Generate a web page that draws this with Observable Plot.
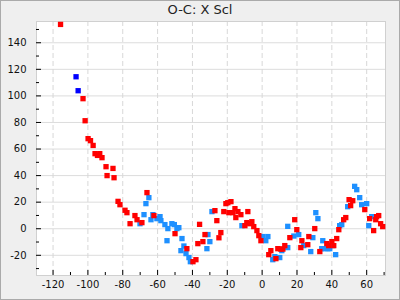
<!DOCTYPE html>
<html><head><meta charset="utf-8">
<script src="https://cdn.jsdelivr.net/npm/d3@7"></script>
<script src="https://cdn.jsdelivr.net/npm/@observablehq/plot@0.6"></script>
<style>
html,body{margin:0;padding:0;background:#fff;}
#frame{position:relative;width:400px;height:300px;box-sizing:border-box;border:1px solid #aaa;background:#efefef;font-family:"DejaVu Sans",sans-serif;overflow:hidden;}
#title{height:18px;line-height:18px;text-align:center;font-size:13px;color:#222;}
#chart svg{display:block;}
</style></head><body>
<div id="frame"><div id="title">O-C: X Scl</div><div id="chart"></div></div>
<script>
const titleText = "O-C: X Scl";
const xTicks = [-120,-100,-80,-60,-40,-20,0,20,40,60];
const xMinor = [-110,-90,-70,-50,-30,-10,10,30,50,70];
const yTicks = [-20,0,20,40,60,80,100,120,140];
const yMinor = [-30,-10,10,30,50,70,90,110,130,150];

const redX = [-115.7,-102.8,-101.6,-99.9,-98.5,-97.0,-95.9,-94.5,-93.2,-91.9,-89.6,-85.6,-89.0,-85.0,-82.7,-81.6,-78.7,-77.6,-75.8,-73.0,-71.8,-69.0,-66.1,-62.1,-50.0,-43.2,-39.7,-38.0,-36.9,-35.9,-34.0,-32.8,-24.8,-23.7,-26.0,-27.1,-20.8,-19.7,-17.9,-22.0,-19.1,-16.8,-15.6,-13.9,-12.2,-15.1,-8.2,-9.9,-8.8,-7.1,-5.9,-4.8,-3.0,-1.9,-0.7,5.0,3.8,9.0,7.9,10.7,11.9,13.0,15.9,18.7,19.9,22.8,22.2,26.8,26.2,30.2,33.1,37.1,38.2,40.0,41.1,42.8,44.0,46.8,48.0,49.9,52.0,50.8,58.9,61.7,65.2,66.9,65.7,64.0,68.0,69.2];
const redY = [153.8,97.9,81.3,67.8,66.3,62.7,56.5,55.2,56.5,53.5,46.7,45.4,40.0,38.4,20.6,18.1,13.9,12.1,3.8,9.9,6.8,4.6,27.2,9.9,-3.7,-15.0,-24.8,-23.3,-11.2,3.3,-9.7,-4.4,-6.8,-2.9,6.1,13.6,18.9,19.6,20.4,12.9,12.1,12.1,15.1,12.9,10.6,8.4,12.9,2.3,4.6,3.8,5.3,1.6,-1.4,-5.2,-9.0,-16.5,-19.5,-15.0,-22.5,-15.3,-15.3,-12.7,-6.7,6.8,-0.7,-9.0,-14.2,-5.9,-12.0,0.1,-17.2,-11.2,-12.7,-9.7,-12.7,-7.4,-0.7,6.8,8.4,21.9,21.1,17.4,14.4,7.6,6.8,9.9,9.1,-1.4,3.8,1.6];

const blueX = [-66.7,-65.0,-70.1,-67.8,-62.7,-63.8,-60.4,-58.6,-58.1,-55.8,-54.1,-51.8,-50.4,-48.9,-47.8,-54.6,-46.0,-44.9,-46.6,-43.7,-42.0,-41.2,-30.0,-31.7,-31.1,-28.8,-11.6,0.4,3.3,2.1,6.1,7.3,10.1,11.3,14.7,14.7,18.2,21.0,23.9,27.9,29.1,30.8,32.0,34.8,34.2,35.9,37.7,38.8,40.5,42.2,44.5,45.7,53.1,54.3,56.0,49.1,57.1,60.0,62.9,61.2];
const blueY = [18.9,23.4,3.8,10.6,10.6,6.8,7.6,9.1,6.1,3.1,0.1,3.8,3.1,0.1,0.8,-9.0,-7.4,-13.0,-16.5,-18.7,-21.7,-24.8,-9.7,-15.0,-4.4,12.9,2.3,-5.9,-5.9,-9.0,-23.3,-21.0,-21.7,-16.5,-14.2,1.8,-5.5,-4.4,-12.7,-17.2,-6.7,12.1,7.6,-9.0,-15.0,-15.0,-15.0,-15.0,-12.7,-19.5,2.3,3.1,31.9,29.4,23.4,16.6,18.1,18.9,9.1,2.3];

const navyX = [-106.8,-105.6];
const navyY = [114.4,103.9];

const toRows = (xs, ys) => xs.map((x, i) => ({x, y: ys[i]}));
const red = toRows(redX, redY);
const blue = toRows(blueX, blueY);
const navy = toRows(navyX, navyY);

document.getElementById("title").textContent = titleText;

const W = 398, H = 280;
const mL = 35, mR = 14, mT = 2, mB = 24;
const innerW = W - mL - mR, innerH = H - mT - mB;
const fmt = d => String(d);

const chart = Plot.plot({
  width: W, height: H,
  marginLeft: mL, marginRight: mR, marginTop: mT, marginBottom: mB,
  style: {background: "transparent", fontFamily: "DejaVu Sans, sans-serif", fontSize: "10px", color: "#111"},
  x: {domain: [-129.5, 70.8], axis: null},
  y: {domain: [-35.2, 156], axis: null},
  marks: [
    Plot.frame({fill: "white", stroke: "none"}),
    Plot.ruleY(yTicks, {stroke: "#dcdcdc", strokeWidth: 1}),
    Plot.ruleX(xTicks, {stroke: "#d8d8d8", strokeDasharray: "5,3"}),
    Plot.frame({stroke: "#d0d0d0", fill: "none"}),
    Plot.ruleX(xTicks, {stroke: "black", insetTop: innerH - 5}),
    Plot.ruleX(xMinor, {stroke: "black", insetTop: innerH - 3}),
    Plot.ruleY(yTicks, {stroke: "black", insetRight: innerW - 5}),
    Plot.ruleY(yMinor, {stroke: "black", insetRight: innerW - 3}),
    Plot.axisX(xTicks, {tickSize: 0, tickPadding: 5, tickFormat: fmt, label: null, fill: "#111"}),
    Plot.axisY(yTicks, {tickSize: 0, tickPadding: 10, tickFormat: fmt, label: null, fill: "#111"}),
    Plot.dot(blue, {x: "x", y: "y", symbol: "square", r: 3, fill: "#1e90ff", stroke: "none"}),
    Plot.dot(navy, {x: "x", y: "y", symbol: "square", r: 3, fill: "#0000ff", stroke: "none"}),
    Plot.dot(red, {x: "x", y: "y", symbol: "square", r: 3, fill: "#ff0000", stroke: "none"})
  ]
});
document.getElementById("chart").appendChild(chart);
</script>
</body></html>
